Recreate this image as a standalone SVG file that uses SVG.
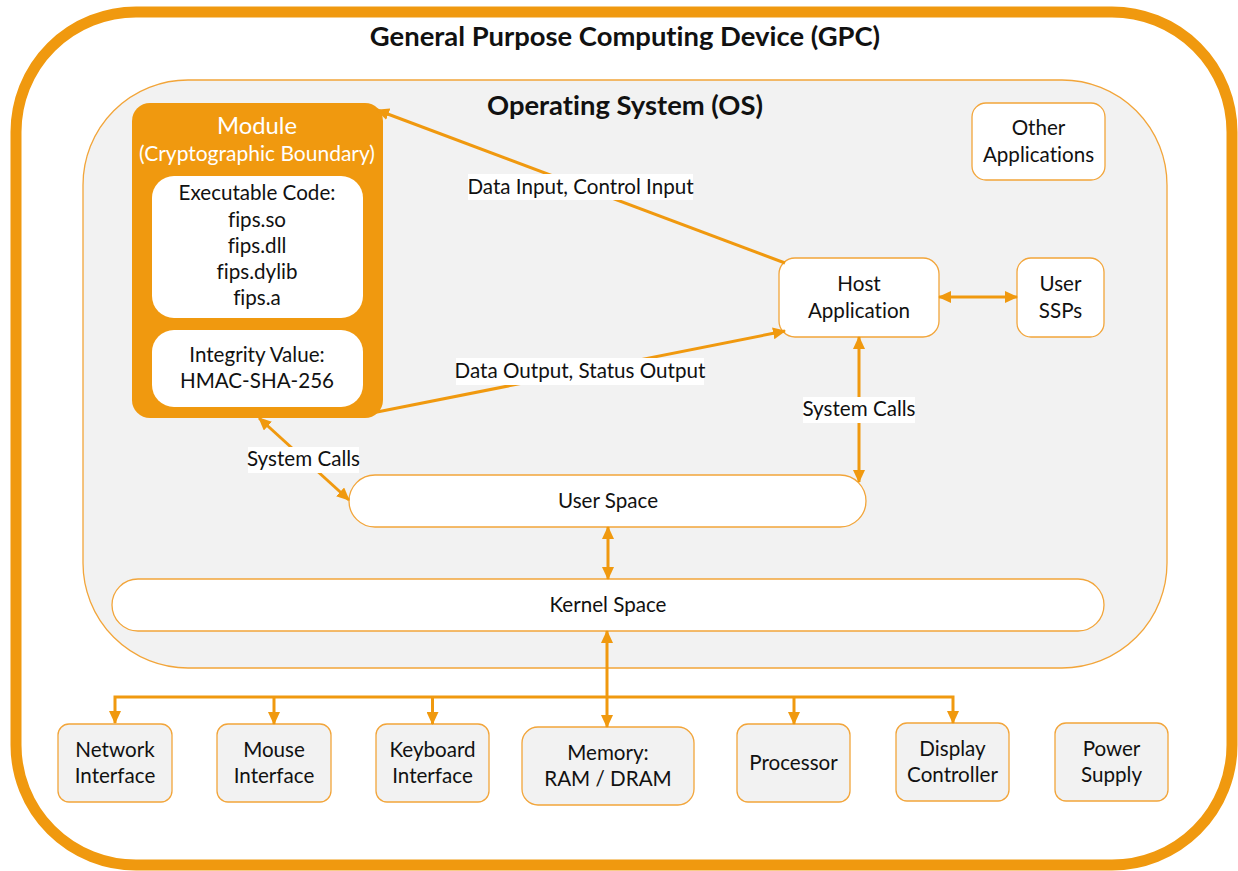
<svg xmlns="http://www.w3.org/2000/svg" width="1238" height="871" viewBox="0 0 1238 871">
<style>
text{font-family:Lato,"Open Sans","Liberation Sans",sans-serif;fill:#111;text-anchor:middle;font-size:20.6px;font-variant-ligatures:none;font-feature-settings:"liga" 0}
.title{font-weight:bold;font-size:27.4px}
.wt{fill:#fff}
.box{fill:#fff;stroke:#F2A53A;stroke-width:1.3}
.gbox{fill:#F2F2F2;stroke:#F2A53A;stroke-width:1.3}
.con{stroke:#F0990F;stroke-width:3;fill:none}
.lbl{fill:#fff}
</style>
<defs>
<marker id="ah" viewBox="0 0 13 12" markerWidth="13" markerHeight="12" refX="12" refY="6" orient="auto-start-reverse" markerUnits="userSpaceOnUse">
<path d="M0,0 L13,6 L0,12 z" fill="#F0990F"/>
</marker>
</defs>
<rect width="1238" height="871" fill="#fff"/>
<g id="gpc">
<rect x="16" y="12" width="1216" height="853" rx="120" ry="120" fill="#fff" stroke="#F0990F" stroke-width="11"/>
<text class="title" x="625" y="46">General Purpose Computing Device (GPC)</text>
</g>
<g id="os">
<rect x="83" y="80" width="1084" height="588" rx="105" ry="105" fill="#F2F2F2" stroke="#F2A53A" stroke-width="1.3"/>
<text class="title" x="625" y="115">Operating System (OS)</text>
</g>
<g id="module">
<rect x="132" y="103" width="251" height="315" rx="18" fill="#F0990F"/>
<text class="wt" x="257" y="134" style="font-size:23.8px">Module</text>
<text class="wt" x="257" y="161" style="font-size:21px">(Cryptographic Boundary)</text>
</g>
<g id="executable-code">
<rect x="152" y="176" width="211" height="142" rx="22" fill="#fff"/>
<text x="257" y="200">Executable Code:</text>
<text x="257" y="226.5">fips.so</text>
<text x="257" y="253">fips.dll</text>
<text x="257" y="278.5">fips.dylib</text>
<text x="257" y="305">fips.a</text>
</g>
<g id="integrity-value">
<rect x="152" y="330" width="211" height="77" rx="22" fill="#fff"/>
<text x="257" y="362">Integrity Value:</text>
<text x="257" y="388">HMAC-SHA-256</text>
</g>
<g id="other-applications">
<rect class="box" x="972" y="103" width="133" height="77" rx="14"/>
<text x="1038.5" y="135">Other</text>
<text x="1038.5" y="162">Applications</text>
</g>
<g id="host-application">
<rect class="box" x="779" y="258" width="160" height="79" rx="16"/>
<text x="859" y="291">Host</text>
<text x="859" y="317.5">Application</text>
</g>
<g id="user-ssps">
<rect class="box" x="1017" y="258" width="87" height="79" rx="14"/>
<text x="1060.5" y="291">User</text>
<text x="1060.5" y="317.5">SSPs</text>
</g>
<g id="user-space">
<rect class="box" x="349" y="475" width="517" height="52" rx="26"/>
<text x="608" y="507.5">User Space</text>
</g>
<g id="kernel-space">
<rect class="box" x="112" y="579" width="992" height="52" rx="26"/>
<text x="608" y="612">Kernel Space</text>
</g>
<g id="network-interface">
<rect class="gbox" x="58" y="724" width="114" height="78" rx="11"/>
<text x="115" y="757">Network</text>
<text x="115" y="783">Interface</text>
</g>
<g id="mouse-interface">
<rect class="gbox" x="217" y="724" width="114" height="78" rx="11"/>
<text x="274" y="757">Mouse</text>
<text x="274" y="783">Interface</text>
</g>
<g id="keyboard-interface">
<rect class="gbox" x="376" y="724" width="113" height="78" rx="11"/>
<text x="432.5" y="757">Keyboard</text>
<text x="432.5" y="783">Interface</text>
</g>
<g id="memory">
<rect class="gbox" x="522" y="727" width="172" height="78" rx="16"/>
<text x="608" y="760">Memory:</text>
<text x="608" y="786">RAM / DRAM</text>
</g>
<g id="processor">
<rect class="gbox" x="737" y="724" width="113" height="78" rx="11"/>
<text x="793.5" y="770">Processor</text>
</g>
<g id="display-controller">
<rect class="gbox" x="896" y="723" width="113" height="78" rx="11"/>
<text x="952.5" y="756">Display</text>
<text x="952.5" y="782">Controller</text>
</g>
<g id="power-supply">
<rect class="gbox" x="1055" y="723" width="113" height="78" rx="11"/>
<text x="1111.5" y="756">Power</text>
<text x="1111.5" y="782">Supply</text>
</g>
<g id="connectors">
<line class="con" x1="785" y1="263" x2="377" y2="110" marker-end="url(#ah)"/>
<rect class="lbl" x="468" y="174" width="225" height="26"/>
<text x="580.5" y="193.5">Data Input, Control Input</text>
<line class="con" x1="372" y1="413" x2="785" y2="331" marker-end="url(#ah)"/>
<rect class="lbl" x="456" y="358" width="248" height="27"/>
<text x="580" y="377.5">Data Output, Status Output</text>
<line class="con" x1="939" y1="297" x2="1017" y2="297" marker-start="url(#ah)" marker-end="url(#ah)"/>
<line class="con" x1="859" y1="337" x2="859" y2="482" marker-start="url(#ah)" marker-end="url(#ah)"/>
<rect class="lbl" x="803" y="397" width="112" height="26"/>
<text x="859" y="416">System Calls</text>
<line class="con" x1="259" y1="418" x2="349" y2="500" marker-start="url(#ah)" marker-end="url(#ah)"/>
<rect class="lbl" x="248" y="447" width="111" height="26"/>
<text x="303.5" y="466">System Calls</text>
<line class="con" x1="608" y1="527" x2="608" y2="579" marker-start="url(#ah)" marker-end="url(#ah)"/>
<line class="con" x1="607" y1="631" x2="607" y2="727" marker-start="url(#ah)" marker-end="url(#ah)"/>
<path class="con" d="M115,723 V697 H953 V723" marker-start="url(#ah)" marker-end="url(#ah)"/>
<line class="con" x1="274" y1="697" x2="274" y2="724" marker-end="url(#ah)"/>
<line class="con" x1="432.5" y1="697" x2="432.5" y2="724" marker-end="url(#ah)"/>
<line class="con" x1="794" y1="697" x2="794" y2="724" marker-end="url(#ah)"/>
</g>
</svg>
